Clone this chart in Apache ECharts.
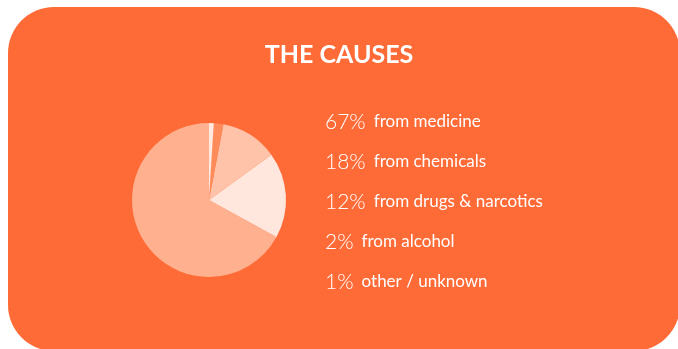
<!DOCTYPE html>
<html>
<head>
<meta charset="utf-8">
<script src="https://cdn.jsdelivr.net/npm/echarts@6/dist/echarts.min.js"></script>
<style>
  html, body { margin: 0; padding: 0; background: #ffffff; }
  #chart { width: 678px; height: 349px; }
</style>
</head>
<body>
<div id="chart"></div>
<script>
// data
const causes = ['from medicine', 'from chemicals', 'from drugs & narcotics', 'from alcohol', 'other / unknown'];
const shares = [67, 18, 12, 2, 1];
const sliceColors = ['#ffb08e', '#ffe7dd', '#ffc3a9', '#ff8b5b', '#ffeae1'];

const bg = '#ff6b37';

const chart = echarts.init(document.getElementById('chart'));

chart.setOption({
    animation: false,
    graphic: [{
        type: 'rect',
        z: -10,
        silent: true,
        shape: { x: 8, y: 7, width: 672, height: 344, r: 46 },
        style: { fill: bg }
    }],
    title: {
        text: 'THE CAUSES',
        left: 'center',
        top: 37,
        textStyle: {
            color: '#ffffff',
            fontFamily: 'Lato',
            fontWeight: 'bold',
            fontSize: 25
        }
    },
    legend: {
        orient: 'vertical',
        left: 315,
        top: 105,
        icon: 'none',
        itemWidth: 0,
        itemHeight: 24,
        itemGap: 17.5,
        selectedMode: false,
        data: causes,
        formatter: (name) => {
            const i = causes.indexOf(name);
            return '{p|' + shares[i] + '%}{l|' + name + '}';
        },
        textStyle: {
            color: '#ffffff',
            rich: {
                p: { fontFamily: 'Lato', fontSize: 21, fontWeight: 300, color: '#ffffff', lineHeight: 24, padding: [0, 8, 0, 0] },
                l: { fontFamily: 'Lato', fontSize: 17, fontWeight: 400, color: '#ffffff', lineHeight: 24 }
            }
        }
    },
    series: [{
        type: 'pie',
        center: [209, 200],
        radius: [0, 77],
        startAngle: 90,
        clockwise: false,
        label: { show: false },
        labelLine: { show: false },
        emphasis: { disabled: true },
        data: causes.map((c, i) => ({
            name: c,
            value: shares[i],
            itemStyle: { color: sliceColors[i] }
        }))
    }]
});
</script>
</body>
</html>
